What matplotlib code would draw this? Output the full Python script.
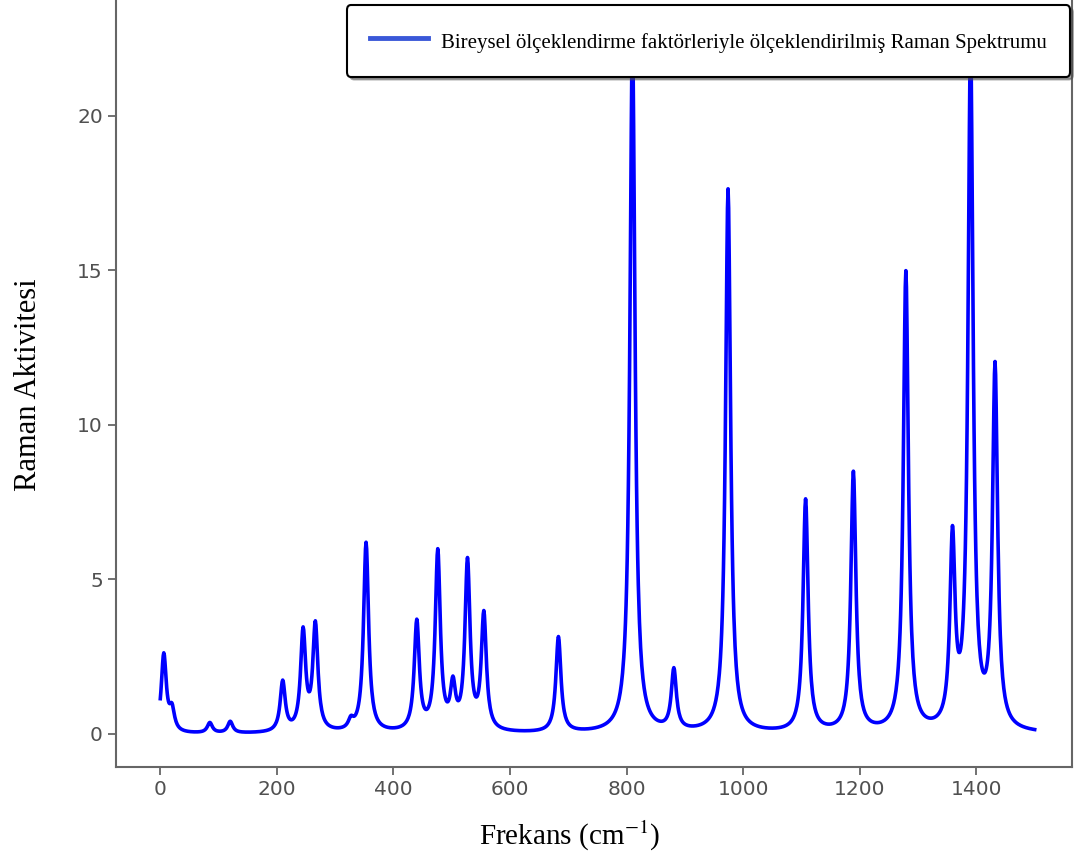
import numpy as np
import matplotlib
matplotlib.use("Agg")
import matplotlib.pyplot as plt

# peak list (cm-1, Raman activity)
peak_freqs = [6, 20, 85, 120, 210, 245, 266, 327, 353, 440, 476, 502, 527, 555,
              683, 810, 881, 974, 1107, 1189, 1279, 1359, 1390, 1432]
peak_acts = [2.53, 0.68, 0.33, 0.37, 1.62, 3.20, 3.42, 0.29, 6.13, 3.52, 5.77, 1.34,
             5.43, 3.74, 3.08, 22.52, 1.95, 17.58, 7.51, 8.38, 14.86, 6.00, 22.05, 11.66]
hwhm = 5.2  # lorentzian half width (cm-1)

x_ticks = [0, 200, 400, 600, 800, 1000, 1200, 1400]
y_ticks = [0, 5, 10, 15, 20]

label_legend = "Bireysel ölçeklendirme faktörleriyle ölçeklendirilmiş Raman Spektrumu"
label_x = "Frekans (cm$^{-1}$)"
label_y = "Raman Aktivitesi"

plt.rcParams["mathtext.fontset"] = "stix"

freq = np.arange(0, 1500.5, 1.0)
spec = np.zeros_like(freq)
for f0, a in zip(peak_freqs, peak_acts):
    spec += a * hwhm**2 / ((freq - f0)**2 + hwhm**2)

fig = plt.figure(figsize=(10.75, 8.61), dpi=100)
ax = fig.add_axes([0.1079, 0.1092, 0.8893, 0.8908])

ax.plot(freq, spec, color="blue", lw=2.6, label=label_legend)

ax.set_xlim(-76, 1564)
ax.set_ylim(-1.07, 23.75)
ax.set_xticks(x_ticks)
ax.set_yticks(y_ticks)
ax.tick_params(labelsize=14.5, labelcolor="#505050", color="#666666", length=6, width=1.3)
for s in ["left", "bottom", "right"]:
    ax.spines[s].set_color("#666666")
    ax.spines[s].set_linewidth(1.5)
ax.spines["top"].set_visible(False)

ax.set_xlabel(label_x, fontsize=21, family="Liberation Serif")
ax.xaxis.set_label_coords(0.474, -0.068)
ax.set_ylabel(label_y, fontsize=22, family="Liberation Serif")
ax.yaxis.set_label_coords(-0.076, 0.498)

leg = ax.legend(loc="upper right", bbox_to_anchor=(0.998, 0.993), borderaxespad=0,
                prop={"family": "Liberation Serif", "size": 15},
                fancybox=True, shadow=True, framealpha=1, borderpad=1.1,
                handlelength=2.75, handleheight=1.5, handletextpad=0.66)
leg.get_frame().set_edgecolor("black")
leg.get_frame().set_linewidth(1.5)
leg.get_lines()[0].set_color("#3a58d8")
leg.get_lines()[0].set_linewidth(3.5)

fig.savefig("out.png", dpi=100)
